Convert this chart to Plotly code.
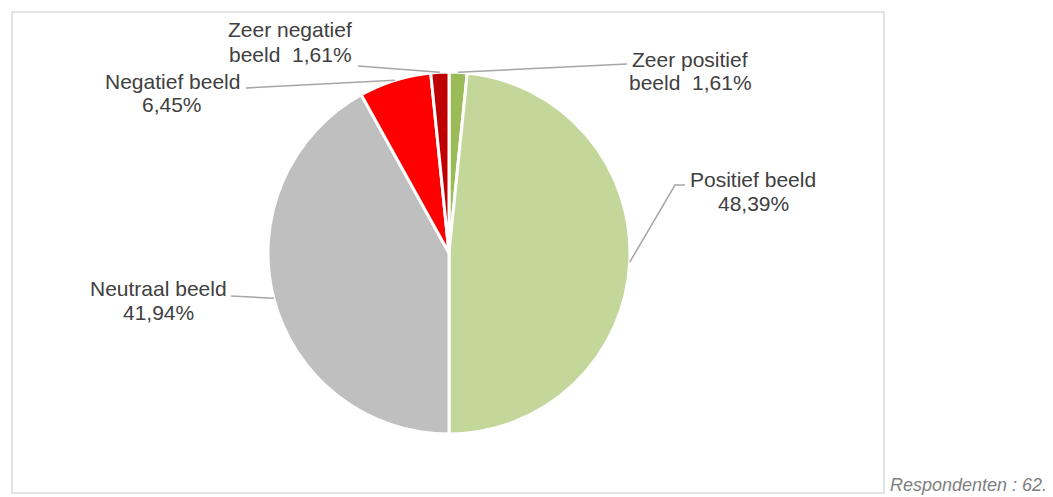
import math
import plotly.graph_objects as go

# data
labels = ["Zeer positief beeld", "Positief beeld", "Neutraal beeld", "Negatief beeld", "Zeer negatief beeld"]
values = [1.61, 48.39, 41.94, 6.45, 1.61]
label_lines = [("Zeer positief", "beeld  1,61%"), ("Positief beeld", "48,39%"),
               ("Neutraal beeld", "41,94%"), ("Negatief beeld", "6,45%"),
               ("Zeer negatief", "beeld  1,61%")]
colors = ["#9BBB59", "#C4D79B", "#BFBFBF", "#FF0000", "#C00000"]
note = "Respondenten : 62."

W, H = 1053, 497
CX, CY, R = 449, 253, 181

# label centres (px) and where leader starts next to text
label_pos = [(690, 71), (753, 191), (158, 300), (172, 93), (290, 42)]
leader_start = [[(627, 64)], [(685, 185), (675, 185)], [(231, 296)], [(246, 88)], [(358, 66)]]


def px(x, y):
    return x / W, 1 - y / H


fig = go.Figure()
fig.add_trace(go.Pie(
    labels=labels, values=values, sort=False, direction="clockwise", rotation=0,
    marker=dict(colors=colors, line=dict(color="white", width=3)),
    textinfo="none", showlegend=False,
    domain=dict(x=[(CX - R) / W, (CX + R) / W], y=[1 - (CY + R) / H, 1 - (CY - R) / H]),
))

total = sum(values)
cum = 0
for i, v in enumerate(values):
    mid = (cum + v / 2) / total * 2 * math.pi
    cum += v
    ax, ay = CX + R * math.sin(mid), CY - R * math.cos(mid)
    pts = leader_start[i] + [(ax, ay)]
    path = "M " + " L ".join(f"{px(x, y)[0]},{px(x, y)[1]}" for x, y in pts)
    fig.add_shape(type="path", path=path, xref="paper", yref="paper",
                  line=dict(color="#A6A6A6", width=1.5))
    cx, cy = label_pos[i]
    for k, line in enumerate(label_lines[i]):
        lx, ly = px(cx, cy - 12 + 24 * k)
        fig.add_annotation(x=lx, y=ly, xref="paper", yref="paper", text=line,
                           showarrow=False, align="center", xanchor="center", yanchor="middle",
                           font=dict(family="Liberation Sans, Arial", size=21, color="#404040"))

# frame
x0, y0 = px(12, 12)
x1, y1 = px(884, 493)
fig.add_shape(type="rect", x0=x0, y0=y1, x1=x1, y1=y0, xref="paper", yref="paper",
              line=dict(color="#D9D9D9", width=1.5))

nx, ny = px(1049, 485)
fig.add_annotation(x=nx, y=ny, xref="paper", yref="paper", text="<i>" + note + "</i>",
                   showarrow=False, xanchor="right", yanchor="middle",
                   font=dict(family="Liberation Sans, Arial", size=18, color="#7F7F7F"))

fig.update_layout(width=W, height=H, margin=dict(l=0, r=0, t=0, b=0),
                  paper_bgcolor="white", plot_bgcolor="white")
fig.write_html("out.html", config={"displayModeBar": False},
               post_script="document.body.style.margin='0px';")
